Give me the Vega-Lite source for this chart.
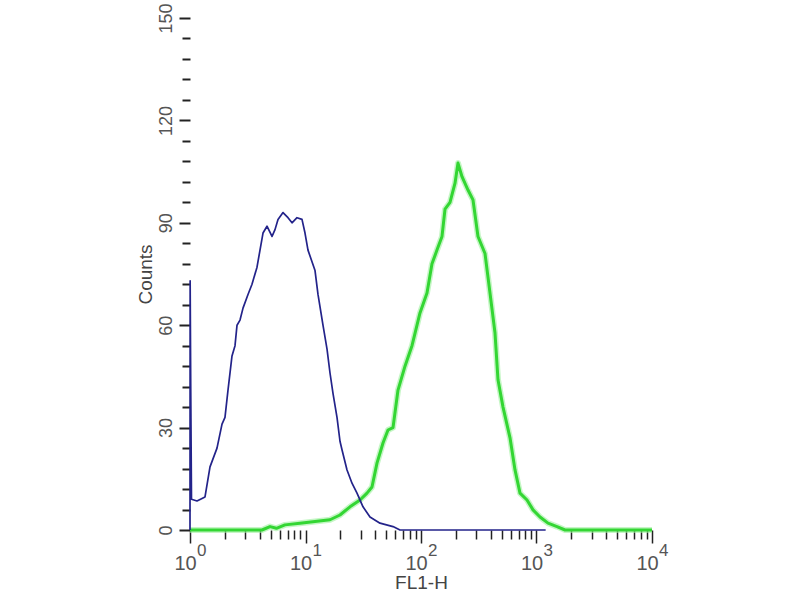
{
  "$schema": "https://vega.github.io/schema/vega-lite/v6.json",
  "autosize": "none",
  "width": 462,
  "height": 512,
  "padding": {"left": 190, "top": 18, "right": 148, "bottom": 70},
  "background": "white",
  "config": {"view": {"stroke": null}, "font": "Liberation Sans"},
  "data": {"values": [
    {"s": "exp", "x": 1, "y": 0, "e": "0"},
    {"s": "exp", "x": 10, "y": 0, "e": "1"},
    {"s": "exp", "x": 100, "y": 0, "e": "2"},
    {"s": "exp", "x": 1000, "y": 0, "e": "3"},
    {"s": "exp", "x": 10000, "y": 0, "e": "4"},
    {"s": "blue", "x": 1.0, "y": 0},
    {"s": "blue", "x": 1.003, "y": 73},
    {"s": "blue", "x": 1.015, "y": 41},
    {"s": "blue", "x": 1.03, "y": 9},
    {"s": "blue", "x": 1.15, "y": 8.5},
    {"s": "blue", "x": 1.349, "y": 9.7},
    {"s": "blue", "x": 1.49, "y": 18.5},
    {"s": "blue", "x": 1.713, "y": 24},
    {"s": "blue", "x": 1.893, "y": 31},
    {"s": "blue", "x": 2.009, "y": 33},
    {"s": "blue", "x": 2.133, "y": 41},
    {"s": "blue", "x": 2.31, "y": 51},
    {"s": "blue", "x": 2.453, "y": 54},
    {"s": "blue", "x": 2.553, "y": 60},
    {"s": "blue", "x": 2.71, "y": 61.5},
    {"s": "blue", "x": 2.877, "y": 65},
    {"s": "blue", "x": 3.178, "y": 69},
    {"s": "blue", "x": 3.442, "y": 72},
    {"s": "blue", "x": 3.803, "y": 77},
    {"s": "blue", "x": 4.037, "y": 82},
    {"s": "blue", "x": 4.286, "y": 87},
    {"s": "blue", "x": 4.642, "y": 89},
    {"s": "blue", "x": 5.129, "y": 86},
    {"s": "blue", "x": 5.445, "y": 88},
    {"s": "blue", "x": 5.78, "y": 91},
    {"s": "blue", "x": 6.387, "y": 93},
    {"s": "blue", "x": 7.055, "y": 91.5},
    {"s": "blue", "x": 7.641, "y": 90},
    {"s": "blue", "x": 8.443, "y": 91.5},
    {"s": "blue", "x": 9.326, "y": 91},
    {"s": "blue", "x": 9.901, "y": 87},
    {"s": "blue", "x": 10.51, "y": 82},
    {"s": "blue", "x": 12.09, "y": 76},
    {"s": "blue", "x": 12.83, "y": 69},
    {"s": "blue", "x": 14.17, "y": 60},
    {"s": "blue", "x": 15.36, "y": 53},
    {"s": "blue", "x": 16.3, "y": 46},
    {"s": "blue", "x": 17.3, "y": 40},
    {"s": "blue", "x": 18.74, "y": 33},
    {"s": "blue", "x": 19.89, "y": 26},
    {"s": "blue", "x": 20.7, "y": 23.5},
    {"s": "blue", "x": 22.88, "y": 17.6},
    {"s": "blue", "x": 25.27, "y": 13.7},
    {"s": "blue", "x": 27.92, "y": 10.8},
    {"s": "blue", "x": 31.47, "y": 6.8},
    {"s": "blue", "x": 36.17, "y": 3.8},
    {"s": "blue", "x": 44.16, "y": 2},
    {"s": "blue", "x": 57.24, "y": 1},
    {"s": "blue", "x": 65.79, "y": 0},
    {"s": "blue", "x": 1200, "y": 0},
    {"s": "green", "x": 1.0, "y": 0},
    {"s": "green", "x": 4.2, "y": 0},
    {"s": "green", "x": 4.93, "y": 1},
    {"s": "green", "x": 5.6, "y": 0.5},
    {"s": "green", "x": 6.64, "y": 1.5},
    {"s": "green", "x": 8.96, "y": 2},
    {"s": "green", "x": 12.09, "y": 2.5},
    {"s": "green", "x": 16.3, "y": 3},
    {"s": "green", "x": 19.89, "y": 4.4},
    {"s": "green", "x": 24.29, "y": 6.8},
    {"s": "green", "x": 29.65, "y": 8.8},
    {"s": "green", "x": 34.08, "y": 10.8},
    {"s": "green", "x": 37.64, "y": 12.6},
    {"s": "green", "x": 41.59, "y": 19.6},
    {"s": "green", "x": 46.88, "y": 25.5},
    {"s": "green", "x": 51.8, "y": 29.3},
    {"s": "green", "x": 57.24, "y": 30},
    {"s": "green", "x": 63.22, "y": 41},
    {"s": "green", "x": 72.69, "y": 48},
    {"s": "green", "x": 83.58, "y": 54},
    {"s": "green", "x": 92.34, "y": 60},
    {"s": "green", "x": 98.0, "y": 63.6},
    {"s": "green", "x": 112.7, "y": 69.4},
    {"s": "green", "x": 124.5, "y": 78},
    {"s": "green", "x": 137.5, "y": 82},
    {"s": "green", "x": 152.0, "y": 86},
    {"s": "green", "x": 161.4, "y": 94},
    {"s": "green", "x": 178.3, "y": 96},
    {"s": "green", "x": 197.0, "y": 101.6},
    {"s": "green", "x": 209.1, "y": 107.5},
    {"s": "green", "x": 226.5, "y": 103.5},
    {"s": "green", "x": 255.3, "y": 99.6},
    {"s": "green", "x": 282.0, "y": 96.7},
    {"s": "green", "x": 311.5, "y": 86},
    {"s": "green", "x": 358.2, "y": 81},
    {"s": "green", "x": 395.8, "y": 69.4},
    {"s": "green", "x": 437.3, "y": 57.7},
    {"s": "green", "x": 464.2, "y": 44},
    {"s": "green", "x": 512.9, "y": 36},
    {"s": "green", "x": 589.7, "y": 27},
    {"s": "green", "x": 651.6, "y": 17.6},
    {"s": "green", "x": 719.7, "y": 10.8},
    {"s": "green", "x": 827.7, "y": 8.8},
    {"s": "green", "x": 932.6, "y": 5.9},
    {"s": "green", "x": 1072, "y": 3.8},
    {"s": "green", "x": 1258, "y": 2},
    {"s": "green", "x": 1505, "y": 1},
    {"s": "green", "x": 1766, "y": 0},
    {"s": "green", "x": 10000, "y": 0}
  ]},
  "encoding": {
    "x": {
      "field": "x", "type": "quantitative",
      "scale": {"type": "log", "domain": [1, 10000], "nice": false},
      "axis": {
        "title": "FL1-H",
        "titleFont": "Liberation Sans", "titleFontSize": 19, "titleFontWeight": "normal", "titleColor": "#444", "titlePadding": 0,
        "domain": false, "grid": false,
        "values": [1,2,3,4,5,6,7,8,9,10,20,30,40,50,60,70,80,90,100,200,300,400,500,600,700,800,900,1000,2000,3000,4000,5000,6000,7000,8000,9000,10000],
        "labelExpr": "datum.value==1||datum.value==10||datum.value==100||datum.value==1000||datum.value==10000?'10':''",
        "labelOverlap": false, "labelFlush": false,
        "labelFont": "Liberation Sans", "labelFontSize": 20, "labelColor": "#555", "labelPadding": 10, "labelOffset": -5,
        "tickColor": "#222", "tickWidth": 1.5,
        "tickSize": {"condition": {"test": "datum.value==1||datum.value==10||datum.value==100||datum.value==1000||datum.value==10000", "value": 13}, "value": 9}
      }
    },
    "y": {
      "field": "y", "type": "quantitative",
      "scale": {"domain": [0, 150], "nice": false},
      "axis": {
        "title": "Counts",
        "titleFont": "Liberation Sans", "titleFontSize": 19, "titleFontWeight": "normal", "titleColor": "#444", "titlePadding": 2,
        "domain": false, "grid": false,
        "values": [0,6,12,18,24,30,36,42,48,54,60,66,72,78,84,90,96,102,108,114,120,126,132,138,144,150],
        "labelExpr": "datum.value%30==0?datum.value+'':''",
        "labelOverlap": false, "labelFlush": false,
        "labelAngle": -90, "labelAlign": "center", "labelBaseline": "bottom",
        "labelFont": "Liberation Sans", "labelFontSize": 18, "labelColor": "#555", "labelPadding": 4,
        "tickColor": "#222", "tickWidth": 2,
        "tickSize": {"condition": {"test": "datum.value%30==0", "value": 11}, "value": 8}
      }
    }
  },
  "layer": [
    {
      "transform": [{"filter": "datum.s=='green'"}],
      "mark": {"type": "line", "color": "#9ef09e", "strokeWidth": 6, "opacity": 0.6, "strokeJoin": "round"}
    },
    {
      "transform": [{"filter": "datum.s=='green'"}],
      "mark": {"type": "line", "color": "#33d633", "strokeWidth": 3, "strokeJoin": "round"}
    },
    {
      "transform": [{"filter": "datum.s=='blue'"}],
      "mark": {"type": "line", "color": "#23238a", "strokeWidth": 1.7, "strokeJoin": "round"}
    },
    {
      "transform": [{"filter": "datum.s=='exp'"}],
      "mark": {"type": "text", "align": "left", "baseline": "top", "dx": 7, "dy": 13, "fontSize": 17, "font": "Liberation Sans", "color": "#555"},
      "encoding": {"text": {"field": "e"}}
    }
  ]
}
